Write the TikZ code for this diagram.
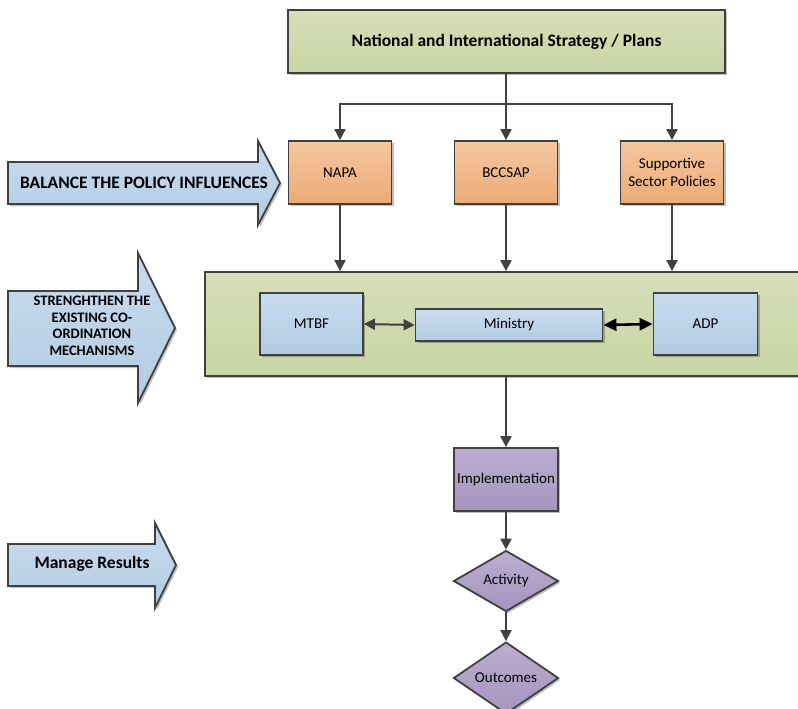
\documentclass[tikz,border=0pt]{standalone}
\usepackage{fontspec}
\setmainfont{Carlito}
\usetikzlibrary{arrows.meta,shapes.geometric,shadows}
\definecolor{edge}{HTML}{404040}
\definecolor{gtop}{HTML}{D6DFB8}
\definecolor{gbot}{HTML}{C8D4A4}
\definecolor{otop}{HTML}{F5C7A0}
\definecolor{obot}{HTML}{ECAA76}
\definecolor{btop}{HTML}{C9DCEE}
\definecolor{bbot}{HTML}{B2CBE3}
\definecolor{ptop}{HTML}{BBAED0}
\definecolor{pbot}{HTML}{A594BE}
\tikzset{
  shd/.style={drop shadow={shadow xshift=2pt,shadow yshift=-2pt,opacity=0.25,fill=black}},
  box/.style={draw=edge,line width=1.8pt,rectangle,inner sep=2pt,align=center,font=\fontsize{15}{18}\selectfont,shd},
  greenbox/.style={box,top color=gtop,bottom color=gbot},
  orangebox/.style={box,top color=otop,bottom color=obot,minimum width=103pt,minimum height=63pt},
  bluebox/.style={box,top color=btop,bottom color=bbot},
  purplebox/.style={box,top color=ptop,bottom color=pbot,minimum width=104pt,minimum height=63pt},
  purplediam/.style={draw=edge,line width=1.8pt,diamond,inner sep=0pt,top color=ptop,bottom color=pbot,minimum width=105pt,minimum height=61pt,font=\fontsize{15}{18}\selectfont,shd},
  leftarrow/.style={draw=edge,line width=1.8pt,top color=btop,bottom color=bbot,shd},
  lbl/.style={font=\bfseries\fontsize{17.5}{20}\selectfont,align=center},
  conn/.style={draw=edge,line width=2pt,-{Triangle[length=11pt,width=11pt]}},
  dconn/.style={draw=edge,line width=2pt,{Triangle[length=11pt,width=11pt]}-{Triangle[length=11pt,width=11pt]}},
  bconn/.style={draw=black,line width=2.6pt,{Triangle[length=13pt,width=12pt]}-{Triangle[length=13pt,width=12pt]}}
}
\begin{document}
\begin{tikzpicture}[x=1pt,y=-1pt]
\useasboundingbox (0,0) rectangle (798,709);
% top
\node[greenbox,minimum width=437pt,minimum height=63pt,font=\bfseries\fontsize{17.5}{20}\selectfont] (top) at (506.5,41.5) {National and International Strategy / Plans};
% orange
\node[orangebox] (napa) at (340,172.5) {NAPA};
\node[orangebox] (bcc) at (506,172.5) {BCCSAP};
\node[orangebox] (sup) at (672,172.5) {Supportive\\Sector Policies};
% green container
\node[greenbox,minimum width=610pt,minimum height=104pt] (grn) at (510,324) {};
\node[bluebox,minimum width=103pt,minimum height=62pt] (mtbf) at (311.5,324) {MTBF};
\node[bluebox,minimum width=187pt,minimum height=32pt] (min) at (509,325) {Ministry};
\node[bluebox,minimum width=104pt,minimum height=62pt] (adp) at (705.5,324) {ADP};
% purple
\node[purplebox] (impl) at (506,479.5) {Implementation};
\node[purplediam] (act) at (506,581) {Activity};
\node[purplediam] (out) at (506,678) {Outcomes};
% left arrows
\draw[leftarrow] (8,162) -- (258,162) -- (258,141) -- (280,183) -- (258,225) -- (258,204) -- (8,204) -- cycle;
\node[lbl] (bal) at (144,183) {BALANCE THE POLICY INFLUENCES};
\draw[leftarrow] (8,291) -- (138,291) -- (138,253) -- (175,328) -- (138,403) -- (138,366) -- (8,366) -- cycle;
\node[lbl,font=\bfseries\fontsize{14.5}{16.5}\selectfont] (str) at (92,326) {STRENGHTHEN THE\\EXISTING CO-\\ORDINATION\\MECHANISMS};
\draw[leftarrow] (8,544) -- (155,544) -- (155,523) -- (176,565) -- (155,608) -- (155,586) -- (8,586) -- cycle;
\node[lbl] (man) at (92,564) {Manage Results};
% connectors
\coordinate (br) at (506,104);
\draw[conn] (top.south -| bcc.north) -- (br) -| (napa.north);
\draw[conn] (top.south -| bcc.north) -- (br) -| (sup.north);
\draw[conn] (top.south -| bcc.north) -- (bcc.north);
\draw[conn] (napa.south) -- (napa.south |- grn.north);
\draw[conn] (bcc.south) -- (bcc.south |- grn.north);
\draw[conn] (sup.south) -- (sup.south |- grn.north);
\draw[dconn] (mtbf.east) -- (min.west);
\draw[bconn] (min.east) -- (adp.west);
\draw[conn] (bcc.south |- grn.south) -- (impl.north);
\draw[conn] (impl.south) -- (act.north);
\draw[conn] (act.south) -- (out.north);
\end{tikzpicture}
\end{document}
